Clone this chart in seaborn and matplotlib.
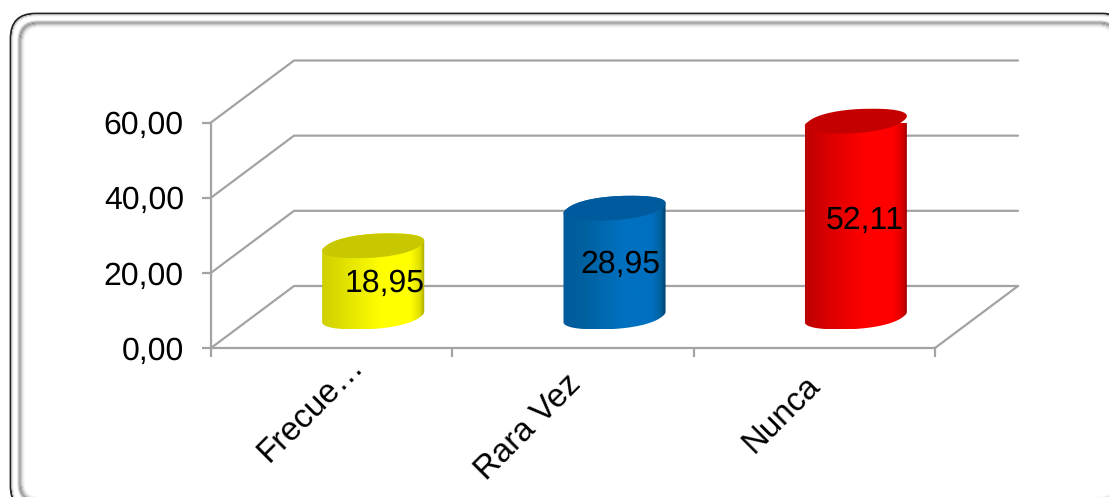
import numpy as np
import pandas as pd
import matplotlib
matplotlib.use("Agg")
import matplotlib.pyplot as plt
import seaborn as sns
from matplotlib.colors import LinearSegmentedColormap
from matplotlib.patches import FancyBboxPatch, Polygon
from matplotlib.transforms import ScaledTranslation

categories = ["Frecue…", "Rara Vez", "Nunca"]
values = [18.95, 28.95, 52.11]
value_labels = ["18,95", "28,95", "52,11"]
y_ticks = [0, 20, 40, 60]

base_colors = ["#ffff00", "#0070c0", "#ff0000"]
cap_colors = ["#c8c800", "#005a9e", "#c40000"]
shaded_left = ["#cfcf00", "#005a9c", "#bc0000"]
shaded_mid = ["#e0e000", "#00619f", "#d80000"]
shaded_right = ["#a8a800", "#004070", "#900000"]

GRID = "#a3a3a3"
FONT = "Liberation Sans"
W, H, DPI = 1109, 497, 100

# Receding offset of the chart floor, in data units
DEPTH_X = 0.344
DEPTH_Y = 16.5
DISC_DEPTH = 0.2
DISC_ROUNDNESS = 0.88

sns.set_theme(style="white")
plt.rcParams["font.family"] = FONT
plt.rcParams["text.hinting"] = "no_hinting"
plt.rcParams["text.hinting_factor"] = 1

fig = plt.figure(figsize=(W / DPI, H / DPI), dpi=DPI, facecolor="white")

# Bevelled rounded frame, in pixel coordinates; it runs past the right and bottom edges
frame = fig.add_axes([0, 0, 1, 1])
frame.set_xlim(0, W)
frame.set_ylim(H, 0)
frame.axis("off")


def rounded(inset, colour, lw, radius):
    x0, y0, x1, y1 = 10.5 + inset, 13.5 + inset, 1127 - inset, 511 - inset
    # A filled face keeps the curved corners intact where the box leaves the canvas
    frame.add_patch(FancyBboxPatch(
        (x0 + radius, y0 + radius), x1 - x0 - 2 * radius, y1 - y0 - 2 * radius,
        boxstyle=f"round,pad={radius},rounding_size={radius}",
        fc="white", ec=colour, lw=lw, clip_on=True))


rounded(0, "#222222", 1.3, 25)
rounded(1.5, "#b8b8b8", 0.7, 24)
rounded(2.5, "#eeeeee", 0.7, 23)
for inset, shade in zip([7.5, 8.5, 9.5, 10.5, 11.5, 12.5, 13.5],
                        ["#d8d8d8", "#a8a8a8", "#8c8c8c", "#a4a4a4",
                         "#c4c4c4", "#e0e0e0", "#f4f4f4"]):
    rounded(inset, shade, 0.8, 25 - inset * 0.7)

ax = fig.add_axes([211 / W, (H - 348) / H, 724 / W, 225.5 / H])
ax.patch.set_alpha(0)

data = pd.DataFrame({"categoria": categories, "valor": values})
sns.barplot(data=data, x="categoria", y="valor", hue="categoria",
            palette=base_colors, width=0.39, legend=False, ax=ax, zorder=3)
ax.set_xlim(-0.5, 2.5)
ax.set_ylim(0, 60)
ax.set_xlabel("")
ax.set_ylabel("")
sns.despine(ax=ax)
for side in ("left", "bottom"):
    ax.spines[side].set_color(GRID)
    ax.spines[side].set_linewidth(1.6)

# Back wall gridlines and the floor's receding edges
for v in y_ticks:
    ax.plot([-0.5, -0.5 + DEPTH_X, 2.5 + DEPTH_X],
            [v, v + DEPTH_Y, v + DEPTH_Y],
            color=GRID, lw=1.6, clip_on=False, zorder=1,
            solid_joinstyle="miter")
ax.plot([2.5, 2.5 + DEPTH_X], [0, DEPTH_Y], color=GRID, lw=1.6,
        clip_on=False, zorder=1)

ax.set_yticks(y_ticks)
ax.set_yticklabels([f"{v:.2f}".replace(".", ",") for v in y_ticks],
                   fontsize=23.3, color="black", family=FONT)
ax.tick_params(axis="y", length=6.5, width=1.6, color=GRID, pad=13, left=True)

ax.set_xticks(range(len(categories)))
ax.set_xticklabels(categories, fontsize=23.5, color="black", family=FONT,
                   rotation=45, ha="right", va="top", rotation_mode="anchor")
ax.set_xticks([-0.5, 0.5, 1.5, 2.5], minor=True)
ax.tick_params(axis="x", which="major", length=0, pad=0, bottom=False)
ax.tick_params(axis="x", which="minor", length=6.5, width=1.6, color=GRID,
               bottom=True)

# Nudge the slanted category labels away from their slots
label_shift = [(16, -3), (-7, -21), (-10, -22)]
for lab, (dx, dy) in zip(ax.get_xticklabels(), label_shift):
    lab.set_transform(lab.get_transform() +
                      ScaledTranslation(dx / DPI, dy / DPI, fig.dpi_scale_trans))


def disc(center, level, half_width, t):
    """Point(s) on a flat, slightly squared disc lying parallel to the floor."""
    c = np.sign(np.cos(t)) * np.abs(np.cos(t)) ** DISC_ROUNDNESS
    s = np.sign(np.sin(t)) * np.abs(np.sin(t)) ** DISC_ROUNDNESS
    x = center + DEPTH_X / 2 + half_width * c + DISC_DEPTH * DEPTH_X * s
    y = level + DEPTH_Y / 2 + DISC_DEPTH * DEPTH_Y * s
    return x, y


bars = list(ax.patches)
text_shift = [(11, -2), (6, -2), (9, -2)]
for i, bar in enumerate(bars):
    bar.set_visible(False)
    center = bar.get_x() + bar.get_width() / 2
    half = bar.get_width() / 2
    top = bar.get_height()

    # Silhouette: lower half of the base disc, upper half of the top disc
    turn = np.linspace(0, 2 * np.pi, 721)[:-1]
    sweep = disc(center, 0, half, turn)[0]
    t_right = turn[np.argmax(sweep)]
    low = np.linspace(t_right - np.pi, t_right, 120)
    high = np.linspace(t_right, t_right + np.pi, 120)
    xl, yl = disc(center, 0, half, low)
    xh, yh = disc(center, top, half, high)
    body = np.column_stack([np.r_[xl, xh], np.r_[yl, yh]])

    cmap = LinearSegmentedColormap.from_list(
        f"body{i}",
        [(0, shaded_left[i]), (0.2, shaded_mid[i]),
         (0.58, base_colors[i]), (0.86, base_colors[i]),
         (0.95, shaded_mid[i]), (1, shaded_right[i])])
    shade = np.linspace(0, 1, 256).reshape(1, -1)
    im = ax.imshow(shade, cmap=cmap, aspect="auto", zorder=3,
                   extent=[body[:, 0].min(), body[:, 0].max(),
                           body[:, 1].min(), body[:, 1].max()])
    outline = Polygon(body, closed=True, transform=ax.transData,
                      fc="none", ec="none")
    ax.add_patch(outline)
    im.set_clip_path(outline)

    cx, cy = disc(center, top, half, turn)
    ax.add_patch(Polygon(np.column_stack([cx, cy]), closed=True,
                         fc=cap_colors[i], ec="none", zorder=4, clip_on=False))

    dx, dy = text_shift[i]
    ax.annotate(value_labels[i],
                xy=(center + DEPTH_X / 2, top / 2 + DEPTH_Y / 2),
                xytext=(dx, dy), textcoords="offset pixels",
                ha="center", va="center", fontsize=23, color="black",
                family=FONT, zorder=6, annotation_clip=False)

ax.set_xlim(-0.5, 2.5)
ax.set_ylim(0, 60)

fig.savefig("out.png", dpi=DPI)
